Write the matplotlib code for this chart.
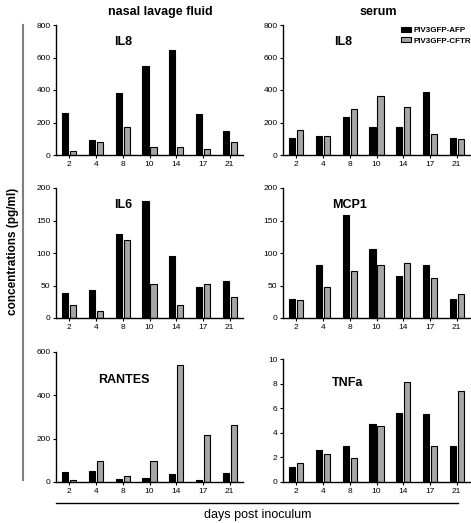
import numpy as np
import matplotlib.pyplot as plt
from matplotlib.lines import Line2D

plt.rcParams['font.family'] = ['Liberation Sans', 'DejaVu Sans']

days = ["2", "4", "8", "10", "14", "17", "21"]

# nasal lavage fluid
nasal_il8_afp = [260, 95, 380, 550, 645, 255, 145]
nasal_il8_cftr = [25, 80, 175, 50, 50, 35, 80]
nasal_il6_afp = [38, 43, 130, 180, 95, 47, 57]
nasal_il6_cftr = [20, 11, 120, 53, 20, 53, 33]
nasal_rantes_afp = [48, 52, 12, 17, 35, 8, 43]
nasal_rantes_cftr = [11, 95, 26, 95, 538, 217, 262]

# serum
serum_il8_afp = [103, 119, 236, 172, 172, 386, 107]
serum_il8_cftr = [154, 115, 281, 363, 295, 129, 98]
serum_mcp1_afp = [29, 81, 158, 106, 64, 82, 29]
serum_mcp1_cftr = [28, 47, 73, 82, 84, 61, 37]
serum_tnfa_afp = [1.25, 2.6, 2.9, 4.7, 5.6, 5.5, 2.9]
serum_tnfa_cftr = [1.53, 2.3, 1.96, 4.58, 8.1, 2.9, 7.4]

W, H = 471, 523
fig = plt.figure(figsize=(W / 100, H / 100), dpi=100)


def px_axes(x0, y0, x1, y1):
    # pixel box (top-left origin) -> figure axes
    return fig.add_axes([x0 / W, 1 - y1 / H, (x1 - x0) / W, (y1 - y0) / H])


panels = [
    # (box, afp, cftr, ymax, ystep, title, title pos)
    ((56, 25, 243, 155), nasal_il8_afp, nasal_il8_cftr, 800, 200, "IL8", (123, 42)),
    ((283, 25, 470, 155), serum_il8_afp, serum_il8_cftr, 800, 200, "IL8", (343, 42)),
    ((56, 188, 243, 318), nasal_il6_afp, nasal_il6_cftr, 200, 50, "IL6", (123, 205)),
    ((283, 188, 470, 318), serum_mcp1_afp, serum_mcp1_cftr, 200, 50, "MCP1", (350, 205)),
    ((56, 352, 243, 482), nasal_rantes_afp, nasal_rantes_cftr, 600, 200, "RANTES", (124, 380)),
    ((283, 359, 470, 482), serum_tnfa_afp, serum_tnfa_cftr, 10, 2, "TNFa", (348, 383)),
]

x = np.arange(len(days))
bw = 0.23
for box, afp, cftr, ymax, ystep, title, tpos in panels:
    ax = px_axes(*box)
    ax.bar(x - 0.15, afp, bw, color="black", edgecolor="black", linewidth=0.8)
    ax.bar(x + 0.15, cftr, bw, color="#a6a6a6", edgecolor="black", linewidth=0.8)
    ax.set_xlim(-0.5, 6.5)
    ax.set_ylim(0, ymax)
    ax.set_yticks(np.arange(0, ymax + ystep / 2, ystep))
    ax.set_xticks(x)
    ax.set_xticklabels(days)
    ax.tick_params(labelsize=6, length=2, width=0.8, pad=2)
    for s in ["top", "right"]:
        ax.spines[s].set_visible(False)
    for s in ["left", "bottom"]:
        ax.spines[s].set_linewidth(1.0)
    fig.text(tpos[0] / W, 1 - tpos[1] / H, title, fontsize=9, fontweight="bold",
             ha="center", va="center")

# column headers
fig.text(160 / W, 1 - 12 / H, "nasal lavage fluid", fontsize=9, fontweight="bold",
         ha="center", va="center")
fig.text(378 / W, 1 - 12 / H, "serum", fontsize=9, fontweight="bold",
         ha="center", va="center")

# legend
handles = [plt.Rectangle((0, 0), 1, 1, facecolor="black", edgecolor="black", linewidth=0.8),
           plt.Rectangle((0, 0), 1, 1, facecolor="#a6a6a6", edgecolor="black", linewidth=0.8)]
fig.legend(handles, ["PIV3GFP-AFP", "PIV3GFP-CFTR"], loc="upper left",
           bbox_to_anchor=(401 / W, 1 - 27 / H), frameon=False,
           prop={"size": 5.8, "weight": "bold"}, handlelength=1.3, handleheight=0.6,
           handletextpad=0.3, labelspacing=0.35, borderpad=0, borderaxespad=0)

# y label with gray bracket line
fig.add_artist(Line2D([23 / W, 23 / W], [1 - 25 / H, 1 - 480 / H], color="#7f7f7f",
                      linewidth=1.5))
fig.text(13 / W, 1 - 251 / H, "concentrations (pg/ml)", fontsize=8.5, fontweight="bold",
         rotation=90, ha="center", va="center")

# x label with line
fig.add_artist(Line2D([56 / W, 458 / W], [1 - 503 / H, 1 - 503 / H], color="black",
                      linewidth=1.0))
fig.text(258 / W, 1 - 515 / H, "days post inoculum", fontsize=9, ha="center", va="center")

fig.savefig("out.png", dpi=100)
